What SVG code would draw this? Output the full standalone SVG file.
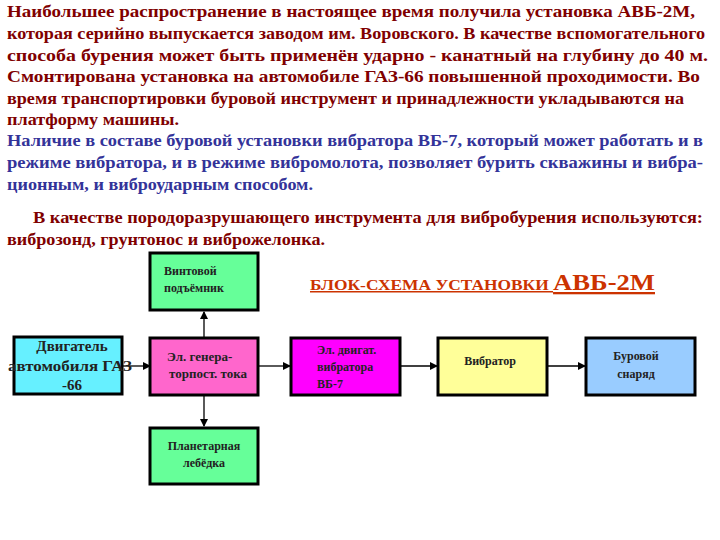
<svg xmlns="http://www.w3.org/2000/svg" width="720" height="540" viewBox="0 0 720 540">
<style>
.t{font-family:"Liberation Serif",serif;font-weight:bold;font-size:16px}
.m{fill:#800000}.b{fill:#333399}
.n{stroke:#000;stroke-width:3}
.l{font-family:"Liberation Serif",serif;font-weight:bold;font-size:12px;fill:#222}
.big{font-size:15px}.mid{font-size:13px}
.c{stroke:#000;stroke-width:1.3;fill:none;marker-end:url(#a)}
</style>
<defs><marker id="a" markerWidth="8" markerHeight="8" refX="7" refY="4" orient="auto" markerUnits="userSpaceOnUse"><path d="M0,0L8,4L0,8z" fill="#000"/></marker></defs>
<rect width="720" height="540" fill="#fff"/>
<g class="t">
<text class="m" x="7" y="17" textLength="688" lengthAdjust="spacingAndGlyphs">Наибольшее распространение в настоящее время получила установка АВБ-2М,</text>
<text class="m" x="7" y="39" textLength="698" lengthAdjust="spacingAndGlyphs">которая серийно выпускается заводом им. Воровского. В качестве вспомогательного</text>
<text class="m" x="7" y="61" textLength="701" lengthAdjust="spacingAndGlyphs">способа бурения  может быть применён ударно - канатный на глубину до 40 м.</text>
<text class="m" x="7" y="82" textLength="693" lengthAdjust="spacingAndGlyphs">Смонтирована установка на автомобиле ГАЗ-66 повышенной проходимости. Во</text>
<text class="m" x="7" y="104" textLength="677" lengthAdjust="spacingAndGlyphs">время транспортировки буровой инструмент и принадлежности укладываются на</text>
<text class="m" x="7" y="125" textLength="172" lengthAdjust="spacingAndGlyphs">платформу машины.</text>
<text class="b" x="7" y="146" textLength="696" lengthAdjust="spacingAndGlyphs">Наличие в составе буровой установки  вибратора ВБ-7, который может работать и в</text>
<text class="b" x="7" y="168" textLength="696" lengthAdjust="spacingAndGlyphs">режиме вибратора, и в режиме вибромолота, позволяет бурить скважины и вибра-</text>
<text class="b" x="7" y="190" textLength="306" lengthAdjust="spacingAndGlyphs">ционным, и виброударным способом.</text>
<text class="m" x="33" y="223" textLength="670" lengthAdjust="spacingAndGlyphs">В качестве породоразрушающего инструмента для вибробурения используются:</text>
<text class="m" x="7" y="245" textLength="318" lengthAdjust="spacingAndGlyphs">виброзонд, грунтонос и виброжелонка.</text>
</g>
<g id="title" font-family="Liberation Serif,serif" font-weight="bold" fill="#CC3300" text-decoration="underline">
<text x="310" y="290" font-size="15" textLength="345" lengthAdjust="spacingAndGlyphs">БЛОК-СХЕМА УСТАНОВКИ <tspan font-size="23">АВБ-2М</tspan></text>
</g>
<g id="connectors">
<path class="c" d="M122,366H150"/>
<path class="c" d="M204,338V312"/>
<path class="c" d="M204,395V426"/>
<path class="c" d="M258,366H290"/>
<path class="c" d="M400,366H437"/>
<path class="c" d="M547,366H585"/>
</g>
<g id="n1"><rect class="n" x="150" y="253" width="108" height="57" fill="#66FF99"/><text class="l" x="164" y="275">Винтовой</text><text class="l" x="164" y="292">подъёмник</text></g>
<g id="n2"><rect class="n" x="14" y="337" width="108" height="57" fill="#66F0FF"/><text class="l big" text-anchor="middle" x="72" y="351">Двигатель</text><text class="l big" text-anchor="middle" x="70" y="371" textLength="124" lengthAdjust="spacingAndGlyphs">автомобиля ГАЗ</text><text class="l big" text-anchor="middle" x="72" y="390">-66</text></g>
<g id="n3"><rect class="n" x="150" y="338" width="108" height="57" fill="#FF66CC"/><text class="l mid" x="167" y="361">Эл. генера-</text><text class="l mid" x="169" y="378">торпост. тока</text></g>
<g id="n4"><rect class="n" x="150" y="428" width="108" height="56" fill="#66FF99"/><text class="l" text-anchor="middle" x="204" y="450">Планетарная</text><text class="l" text-anchor="middle" x="204" y="467">лебёдка</text></g>
<g id="n5"><rect class="n" x="291" y="338" width="109" height="57" fill="#FF00FF"/><text class="l" x="317" y="354">Эл. двигат.</text><text class="l" x="317" y="371">вибратора</text><text class="l" x="317" y="388">ВБ-7</text></g>
<g id="n6"><rect class="n" x="438" y="338" width="109" height="57" fill="#FFFF99"/><text class="l" text-anchor="middle" x="490" y="365">Вибратор</text></g>
<g id="n7"><rect class="n" x="586" y="338" width="109" height="57" fill="#99CCFF"/><text class="l" text-anchor="middle" x="636" y="360">Буровой</text><text class="l" text-anchor="middle" x="636" y="378">снаряд</text></g>
</svg>
